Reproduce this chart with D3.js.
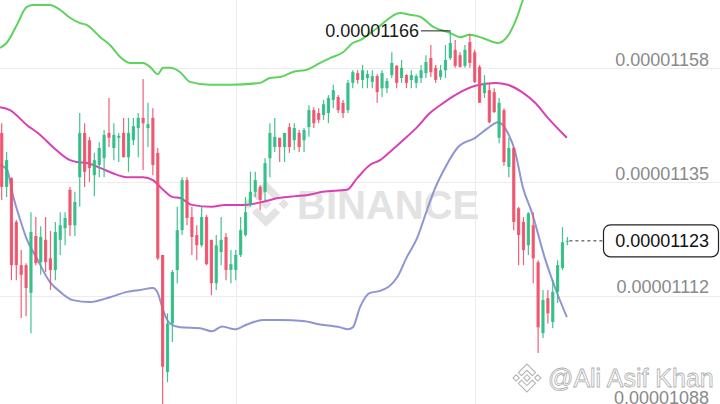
<!DOCTYPE html>
<html><head><meta charset="utf-8">
<script src="https://cdn.jsdelivr.net/npm/d3@7"></script>
<style>html,body{margin:0;padding:0;background:#fff;overflow:hidden}</style>
</head><body>
<svg id="chart" width="720" height="404"></svg>
<script>
// Prices in units of 1e-8
const openP = [1145.1,1134.0,1135.8,1126.8,1117.9,1117.9,1112.2,1123.9,1118.5,1123.1,
1119.3,1116.9,1123.1,1125.5,1133.4,1126.1,1136.0,1145.1,1143.6,1136.4,
1138.5,1139.9,1145.1,1142.0,1144.1,1145.1,1140.1,1143.6,1146.1,1148.2,
1146.1,1148.2,1141.0,1120.0,1095.9,1105.9,1116.9,1125.1,1135.4,1127.8,
1124.1,1122.0,1127.8,1123.1,1114.2,1120.6,1123.7,1116.9,1116.9,1120.0,
1124.1,1130.3,1133.0,1134.0,1133.0,1139.9,1142.2,1144.1,1142.2,1146.3,
1143.6,1145.1,1143.6,1146.3,1149.8,1149.2,1148.8,1149.2,1151.9,1152.5,
1151.3,1149.8,1155.4,1157.4,1156.0,1156.4,1155.6,1156.8,1154.3,1154.3,
1157.0,1158.9,1156.4,1157.0,1156.0,1155.4,1156.4,1157.4,1160.5,1158.5,
1156.6,1158.0,1160.5,1162.2,1161.1,1158.9,1163.8,1161.7,1158.7,1153.3,
1153.9,1153.5,1144.1,1149.8,1138.1,1142.0,1129.6,1126.8,1122.0,1126.1,
1118.5,1103.9,1111.1,1106.2,1112.4,1117.3,1122.8];
const highP = [1147.1,1141.2,1136.0,1127.2,1121.0,1118.3,1128.8,1127.8,1125.9,1127.8,
1124.9,1126.8,1128.8,1128.8,1134.0,1133.0,1149.2,1147.1,1144.3,1141.0,
1143.2,1145.7,1152.3,1147.1,1145.1,1148.2,1148.2,1148.2,1149.2,1156.2,
1151.3,1150.2,1142.0,1120.0,1108.0,1116.9,1129.9,1136.0,1136.0,1129.9,
1126.1,1129.9,1128.2,1123.1,1124.1,1127.8,1124.5,1121.0,1121.0,1127.8,
1131.9,1137.1,1137.1,1134.4,1139.9,1147.1,1148.2,1144.1,1145.1,1147.1,
1147.1,1145.7,1146.1,1150.8,1150.4,1150.2,1151.9,1152.9,1155.0,1152.9,
1151.9,1156.0,1158.0,1158.0,1159.1,1158.0,1158.0,1157.2,1158.0,1156.4,
1161.7,1159.1,1160.1,1157.2,1158.0,1157.2,1159.1,1161.1,1163.2,1159.1,
1159.1,1163.2,1166.1,1164.2,1161.7,1163.2,1165.5,1162.2,1159.1,1157.0,
1155.4,1154.3,1152.3,1150.2,1144.1,1142.2,1129.9,1127.8,1128.8,1128.8,
1118.9,1112.8,1112.8,1114.8,1118.9,1125.7,1123.7];
const lowP = [1131.3,1131.9,1114.8,1114.8,1107.0,1107.4,1103.9,1117.9,1115.9,1116.5,
1112.8,1114.8,1120.0,1122.0,1123.9,1123.9,1129.9,1134.0,1135.0,1132.1,
1136.0,1136.0,1142.2,1139.5,1139.1,1140.1,1137.1,1142.6,1140.1,1137.5,
1142.2,1136.4,1118.9,1088.5,1093.8,1102.1,1114.2,1124.1,1126.1,1120.0,
1118.9,1121.6,1117.9,1111.7,1112.8,1117.9,1114.8,1114.2,1114.8,1119.6,
1123.8,1129.9,1131.9,1129.2,1131.3,1136.0,1141.2,1139.1,1139.1,1141.0,
1141.6,1141.2,1141.2,1144.3,1146.1,1147.1,1147.8,1147.1,1150.2,1149.2,
1148.2,1149.2,1154.3,1155.2,1154.3,1154.3,1154.3,1151.3,1152.5,1153.3,
1156.4,1154.3,1155.4,1154.3,1154.3,1154.3,1155.4,1156.4,1156.6,1155.4,
1156.0,1156.4,1160.1,1158.5,1158.5,1158.5,1158.5,1155.4,1151.3,1152.3,
1147.1,1149.2,1143.0,1138.3,1136.0,1125.1,1117.9,1117.9,1120.0,1114.2,
1099.8,1102.9,1105.9,1104.9,1110.1,1116.9,1122.0];
const closeP = [1134.0,1139.5,1117.9,1117.9,1115.9,1113.2,1124.7,1118.3,1123.7,1118.5,
1116.9,1124.7,1126.1,1127.6,1126.1,1130.9,1145.1,1137.1,1137.9,1139.5,
1142.0,1144.7,1144.1,1144.7,1144.5,1140.1,1145.1,1146.5,1148.2,1147.1,
1146.9,1138.5,1119.3,1097.0,1105.9,1116.5,1125.1,1135.4,1127.6,1123.7,
1122.0,1127.8,1118.1,1114.2,1122.0,1123.1,1116.9,1118.1,1120.0,1125.1,
1128.8,1133.0,1135.4,1131.3,1138.9,1145.1,1144.3,1142.2,1145.1,1142.2,
1146.1,1142.2,1145.7,1149.8,1147.1,1147.8,1151.0,1152.3,1153.9,1149.8,
1149.2,1155.4,1157.6,1156.0,1158.0,1157.2,1156.8,1153.5,1157.4,1155.8,
1159.5,1155.4,1158.5,1155.4,1157.0,1156.8,1158.0,1159.7,1157.6,1156.0,
1158.0,1160.1,1163.6,1158.9,1158.7,1162.2,1159.5,1155.6,1151.3,1155.4,
1147.3,1149.4,1151.3,1139.1,1142.0,1126.8,1124.1,1121.0,1128.6,1119.3,
1105.1,1110.7,1108.0,1112.4,1117.9,1122.6,1122.9];

// Bollinger bands: [candle index, price]
const upperBand = [[-0.35,1162.6],[1.0,1163.6],[3.1,1167.3],[5.1,1171.0],[6.4,1171.4],[9.9,1171.4],[12.0,1170.4],[14.0,1168.8],[16.1,1167.7],[17.5,1167.3],[20.2,1164.8],[22.2,1163.2],[24.3,1160.7],[26.3,1159.5],[29.0,1159.5],[30.4,1158.7],[32.0,1157.2],[33.1,1158.5],[34.5,1158.5],[36.6,1157.6],[38.6,1155.6],[42.7,1155.0],[46.8,1155.0],[53.0,1155.4],[55.0,1156.4],[57.1,1156.6],[60.2,1157.8],[62.2,1158.0],[65.3,1159.5],[67.3,1160.5],[70.0,1161.7],[72.0,1163.6],[73.5,1164.2],[77.0,1166.7],[81.7,1169.8],[83.7,1169.4],[85.8,1169.0],[88.5,1166.9],[91.9,1165.7],[94.0,1164.8],[96.0,1165.3],[98.7,1164.6],[101.8,1163.6],[103.6,1164.8],[105.7,1169.0],[106.9,1172.5],[109.4,1177.6],[116.0,1184.8]];
const middleBand = [[-0.35,1150.4],[1.7,1149.8],[5.2,1146.7],[7.9,1144.7],[10.5,1142.2],[14.0,1139.5],[15.4,1139.1],[17.5,1138.9],[20.2,1137.9],[22.8,1136.8],[25.7,1136.0],[29.0,1136.0],[31.0,1135.4],[33.1,1133.4],[35.1,1131.9],[36.6,1131.7],[39.0,1130.3],[43.1,1129.9],[45.8,1130.3],[49.9,1130.3],[53.4,1130.9],[56.7,1131.7],[60.2,1132.1],[62.6,1132.3],[65.9,1133.0],[70.8,1133.4],[72.9,1135.8],[75.5,1138.5],[77.6,1139.5],[79.6,1141.2],[82.3,1143.6],[85.2,1146.3],[87.8,1149.2],[89.9,1150.8],[93.0,1152.9],[97.1,1154.8],[101.2,1155.4],[103.8,1155.0],[106.7,1153.5],[109.4,1151.3],[112.0,1148.2],[115.9,1144.1]];
const lowerBand = [[-0.35,1138.5],[1.1,1137.5],[2.3,1132.3],[3.8,1127.2],[5.2,1123.1],[7.2,1119.3],[9.9,1114.4],[12.0,1112.4],[14.6,1110.7],[18.1,1110.3],[22.2,1111.3],[25.7,1112.4],[28.4,1112.8],[31.0,1113.2],[32.0,1112.2],[33.1,1108.6],[34.5,1105.9],[36.6,1105.1],[40.7,1104.9],[43.1,1104.3],[45.2,1105.3],[47.8,1104.7],[50.3,1105.7],[53.6,1106.6],[57.1,1106.6],[61.8,1106.4],[65.3,1105.7],[69.4,1105.1],[71.0,1104.7],[72.0,1105.1],[73.5,1109.3],[75.5,1112.2],[77.6,1112.6],[81.1,1115.4],[83.1,1119.6],[85.2,1123.5],[87.2,1129.2],[88.9,1133.8],[90.9,1137.9],[93.6,1142.2],[97.1,1144.1],[99.7,1146.1],[101.8,1147.3],[103.8,1145.1],[105.3,1141.2],[106.9,1133.8],[108.7,1128.8],[111.4,1119.3],[113.5,1113.2],[115.9,1107.2]];

const tickValues = [1158.4, 1135.0, 1111.6, 1088.2];
const tickLabels = ["0.00001158", "0.00001135", "0.00001112", "0.00001088"];
const timeGrid = [48, 97];
const highIndex = 92;
const highLabel = "0.00001166";
const lastLabel = "0.00001123";

const svg = d3.select("#chart");
const x = d3.scaleLinear().domain([-0.349, 147.3]).range([0, 720]);
const y = d3.scaleLinear().domain([1158.4, 1088.2]).range([68.3, 409.5]);

// grid
svg.append("g").selectAll("line").data(tickValues).join("line")
  .attr("x1", 0).attr("x2", 720)
  .attr("y1", d => Math.round(y(d)) + 0.5).attr("y2", d => Math.round(y(d)) + 0.5)
  .attr("stroke", "#ececec").attr("stroke-width", 1);
svg.append("g").selectAll("line").data(timeGrid).join("line")
  .attr("x1", d => Math.round(x(d)) + 0.5).attr("x2", d => Math.round(x(d)) + 0.5)
  .attr("y1", 0).attr("y2", 404)
  .attr("stroke", "#ececec").attr("stroke-width", 1);

// Binance logo path (viewBox 126.61)
const logoPaths = [
 "M38.73,53.2,63.3,28.63,87.89,53.22l14.3-14.3L63.3,0,24.43,38.9Z",
 "M0,63.31l14.3-14.3,14.3,14.3-14.3,14.3Z",
 "M38.73,73.41,63.3,98l24.59-24.59,14.31,14.29L63.3,126.61,24.41,87.73Z",
 "M98,63.31l14.3-14.3,14.3,14.3-14.3,14.3Z",
 "M77.83,63.3L63.3,48.76,48.77,63.29,63.3,77.83Z"
];
const wm = svg.append("g");
const lg = wm.append("g").attr("transform", "translate(243,181) scale(0.363)");
logoPaths.forEach(p => lg.append("path").attr("d", p).attr("fill", "#e3e3e3"));
wm.append("text").attr("x", 297).attr("y", 219)
  .attr("font-family", "Liberation Sans, Arial, sans-serif").attr("font-weight", "bold")
  .attr("font-size", 40).attr("fill", "#e3e3e3").text("BINANCE");

// bands
const line = d3.line().x(d => x(d[0])).y(d => y(d[1])).curve(d3.curveMonotoneX);
[[upperBand, "#5fd35f"], [middleBand, "#d940b4"], [lowerBand, "#8e95d3"]].forEach(([data, col]) => {
  svg.append("path").datum(data).attr("d", line).attr("fill", "none")
    .attr("stroke", col).attr("stroke-width", 2).attr("stroke-linejoin", "round");
});

// candles
const idx = d3.range(openP.length);
const colorOf = i => closeP[i] >= openP[i] ? "#2ebd85" : "#f0506a";
const cg = svg.append("g");
cg.selectAll("line").data(idx).join("line")
  .attr("x1", i => x(i)).attr("x2", i => x(i))
  .attr("y1", i => y(highP[i])).attr("y2", i => y(lowP[i]))
  .attr("stroke", colorOf).attr("stroke-width", 1.2).attr("opacity", 0.9);
cg.selectAll("rect").data(idx).join("rect")
  .attr("x", i => x(i) - 1.6).attr("width", 3.2)
  .attr("y", i => y(Math.max(openP[i], closeP[i])))
  .attr("height", i => Math.max(1, Math.abs(y(openP[i]) - y(closeP[i]))))
  .attr("fill", colorOf).attr("opacity", 0.9);

// right axis labels
const ax = svg.append("g").attr("transform", "translate(709,0)")
  .call(d3.axisLeft(y).tickValues(tickValues).tickFormat((d, i) => tickLabels[i]).tickSize(0).tickPadding(0));
ax.select(".domain").remove();
ax.selectAll("text").attr("dy", null).attr("y", d => Math.min(-3, 403 - y(d)))
  .attr("font-family", "Liberation Sans, Arial, sans-serif").attr("font-size", 18).attr("fill", "#8a8a8a");

// high marker
const hy = y(highP[highIndex]);
svg.append("path").attr("d", `M421,${hy}H${x(highIndex)}`).attr("stroke", "#222").attr("stroke-width", 1).attr("fill", "none");
svg.append("text").attr("x", 419).attr("y", hy + 6.3).attr("text-anchor", "end")
  .attr("font-family", "Liberation Sans, Arial, sans-serif").attr("font-size", 18).attr("fill", "#1a1a1a")
  .text(highLabel);

// last price
const last = closeP.length - 1;
const ly = y(closeP[last]);
svg.append("line").attr("x1", x(last) + 2).attr("x2", 603).attr("y1", ly).attr("y2", ly)
  .attr("stroke", "#333").attr("stroke-width", 1).attr("stroke-dasharray", "3,3");
svg.append("rect").attr("x", 603.5).attr("y", ly - 16).attr("width", 115).attr("height", 32).attr("rx", 7)
  .attr("fill", "#fff").attr("stroke", "#222").attr("stroke-width", 1.2);
svg.append("text").attr("x", 709).attr("y", ly + 6.3).attr("text-anchor", "end")
  .attr("font-family", "Liberation Sans, Arial, sans-serif").attr("font-size", 18).attr("fill", "#111")
  .text(lastLabel);

// bottom-right watermark
const lg2 = svg.append("g").attr("transform", "translate(513,364) scale(0.22)");
logoPaths.forEach(p => lg2.append("path").attr("d", p).attr("fill", "#fff").attr("stroke", "#b5b5b5").attr("stroke-width", 5));
svg.append("text").attr("x", 548).attr("y", 387)
  .attr("font-family", "Liberation Sans, Arial, sans-serif").attr("font-size", 25)
  .attr("fill", "#fff").attr("stroke", "#b0b0b0").attr("stroke-width", 0.8)
  .text("@Ali Asif Khan");
</script>
</body></html>
